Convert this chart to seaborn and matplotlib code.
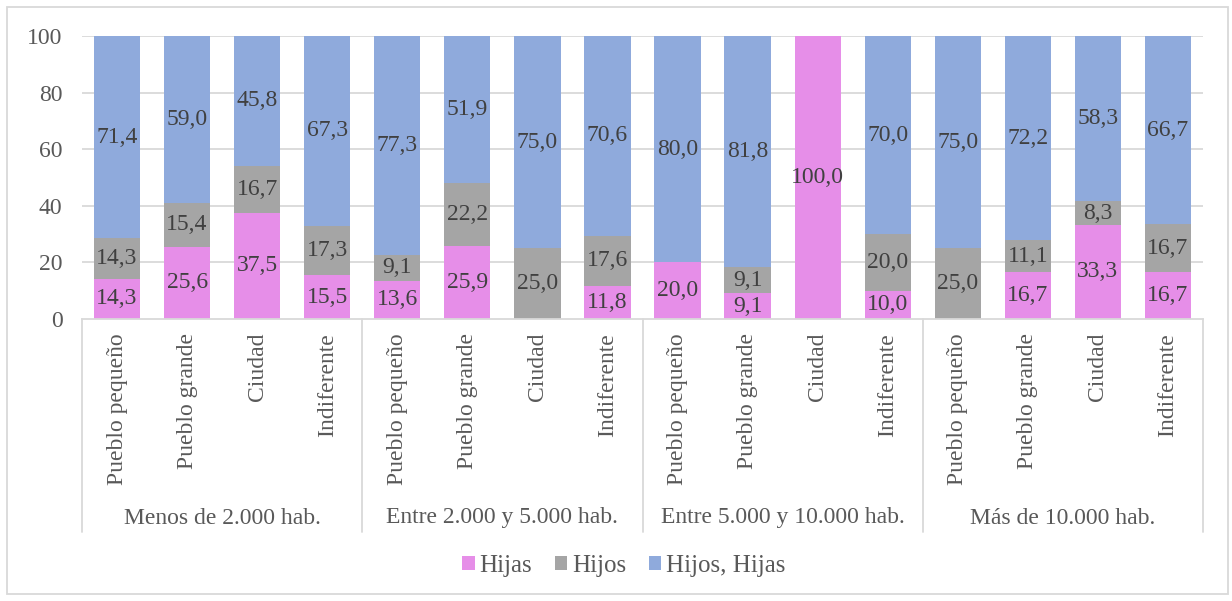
import numpy as np
import pandas as pd
import matplotlib
matplotlib.use("Agg")
import matplotlib.pyplot as plt
import matplotlib.transforms as mtransforms
from matplotlib.patches import Rectangle, Patch
import seaborn as sns

# --- data -------------------------------------------------------------
groups = ["Menos de 2.000 hab.", "Entre 2.000 y 5.000 hab.",
          "Entre 5.000 y 10.000 hab.", "Más de 10.000 hab."]
places = ["Pueblo pequeño", "Pueblo grande", "Ciudad", "Indiferente"]

hijas = [14.3, 25.6, 37.5, 15.5,
         13.6, 25.9, 0.0, 11.8,
         20.0, 9.1, 100.0, 10.0,
         0.0, 16.7, 33.3, 16.7]
hijos = [14.3, 15.4, 16.7, 17.3,
         9.1, 22.2, 25.0, 17.6,
         0.0, 9.1, 0.0, 20.0,
         25.0, 11.1, 8.3, 16.7]
ambos = [71.4, 59.0, 45.8, 67.3,
         77.3, 51.9, 75.0, 70.6,
         80.0, 81.8, 0.0, 70.0,
         75.0, 72.2, 58.3, 66.7]

series_names = ["Hijas", "Hijos", "Hijos, Hijas"]
colors = ["#E68EE8", "#A5A5A5", "#8FAADC"]

# --- style ------------------------------------------------------------
sns.set_style("white")
plt.rcParams["font.family"] = ["Liberation Serif", "DejaVu Serif"]
text_gray = "#595959"
label_gray = "#404040"
line_gray = "#D9D9D9"
fs = 17

n = len(hijas)
pos = list(range(n))
df = pd.DataFrame({
    "pos": pos,
    "Hijas": hijas,
    "Hijos": hijos,
    "Hijos, Hijas": ambos,
})
df["c1"] = df["Hijas"]
df["c2"] = df["Hijas"] + df["Hijos"]
df["c3"] = df["c2"] + df["Hijos, Hijas"]

W, H = 1232, 601
fig = plt.figure(figsize=(W / 100, H / 100), dpi=100)
ax = fig.add_axes([82 / W, 1 - 319 / H, (1203 - 82) / W, (319 - 36) / H])

# stacked bars: draw cumulative totals back to front
for col, color in zip(["c3", "c2", "c1"], colors[::-1]):
    sns.barplot(data=df, x="pos", y=col, color=color, width=0.66,
                saturation=1, errorbar=None, linewidth=0, ax=ax, zorder=2)

ax.set_ylim(0, 100)
ax.set_xlim(-0.5, n - 0.5)
ax.set_yticks([0, 20, 40, 60, 80, 100])
ax.set_yticklabels(["0", "20", "40", "60", "80", "100"], fontsize=fs, color=text_gray)
ax.tick_params(axis="y", length=0, pad=14)
for y in [20, 40, 60, 80, 100]:
    ax.axhline(y, color=line_gray, lw=1.3, zorder=0)
for s in ["top", "right", "left"]:
    ax.spines[s].set_visible(False)
ax.spines["bottom"].set_color(line_gray)
ax.spines["bottom"].set_linewidth(1.3)
ax.set_xlabel("")
ax.set_ylabel("")

# value labels centred in each segment
lower = [np.zeros(n), np.array(df["c1"]), np.array(df["c2"])]
for vals, base in zip([hijas, hijos, ambos], lower):
    for i, (v, b) in enumerate(zip(vals, base)):
        if v > 0:
            ax.text(i, b + v / 2, f"{v:.1f}".replace(".", ","),
                    ha="center", va="center", fontsize=fs, color=label_gray, zorder=3)

# category tick labels (rotated)
ax.set_xticks(pos)
ax.set_xticklabels(places * len(groups), rotation=90, fontsize=fs, color=text_gray,
                   ha="center", va="top")
ax.tick_params(axis="x", length=0, pad=10)

# group labels and separators below the axis
trans = mtransforms.blended_transform_factory(ax.transData, fig.transFigure)
y_top = 1 - 319 / H
y_bot = 1 - 532 / H
for k, g in enumerate(groups):
    ax.text(4 * k + 1.5, 1 - 518 / H, g, transform=trans, ha="center", va="center",
            fontsize=fs, color=text_gray)
for xb in [-0.5, 3.5, 7.5, 11.5, 15.5]:
    ax.plot([xb, xb], [y_top, y_bot], transform=trans, color=line_gray, lw=1.3,
            clip_on=False)

# legend
handles = [Patch(facecolor=c, edgecolor="none") for c in colors]
fig.legend(handles, series_names, loc="center", bbox_to_anchor=(624 / W, 1 - 566 / H),
           ncol=3, frameon=False, fontsize=fs + 1, handlelength=0.5, handleheight=0.5,
           handletextpad=0.2, columnspacing=0.9, labelcolor=text_gray)

# chart frame
fig.patches.append(Rectangle((7 / W, 1 - 594 / H), (1228 - 7) / W, (594 - 7) / H,
                             transform=fig.transFigure, fill=False,
                             edgecolor=line_gray, lw=1.3))

fig.savefig("out.png", dpi=100)
